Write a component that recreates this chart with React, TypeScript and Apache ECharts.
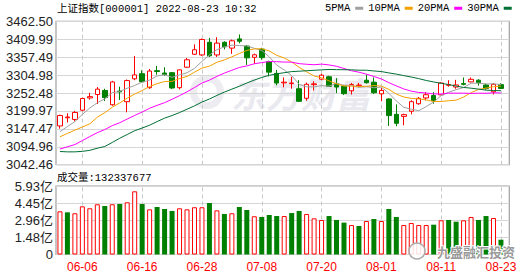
import React, { useEffect, useRef } from "react";
import * as echarts from "echarts";

const dates = [
  "05-31", "06-01", "06-02", "06-06", "06-07", "06-08", "06-09", "06-10", "06-13", "06-14",
  "06-15", "06-16", "06-17", "06-20", "06-21", "06-22", "06-23", "06-24", "06-27", "06-28",
  "06-29", "06-30", "07-01", "07-04", "07-05", "07-06", "07-07", "07-08", "07-11", "07-12",
  "07-13", "07-14", "07-15", "07-18", "07-19", "07-20", "07-21", "07-22", "07-25", "07-26",
  "07-27", "07-28", "07-29", "08-01", "08-02", "08-03", "08-04", "08-05", "08-08", "08-09",
  "08-10", "08-11", "08-12", "08-15", "08-16", "08-17", "08-18", "08-19", "08-22", "08-23",
];

const openPx = [
  3156, 3180, 3175, 3202, 3238, 3248, 3260, 3218, 3258, 3227,
  3294, 3309, 3268, 3318, 3311, 3312, 3268, 3328, 3366, 3364,
  3401, 3364, 3401, 3384, 3411, 3390, 3357, 3381, 3344, 3310,
  3282, 3280, 3265, 3237, 3277, 3293, 3300, 3280, 3272, 3259,
  3274, 3290, 3284, 3250, 3235, 3190, 3184, 3199, 3221, 3238,
  3245, 3247, 3275, 3270, 3280, 3285, 3290, 3276, 3256, 3277,
];
const closePx = [
  3186.4, 3182.2, 3195.5, 3236.4, 3241.8, 3263.8, 3239.0, 3284.8, 3255.6, 3288.9,
  3305.4, 3285.4, 3316.8, 3315.4, 3306.7, 3267.2, 3320.2, 3349.8, 3379.2, 3409.2,
  3361.5, 3398.6, 3387.6, 3405.4, 3404.0, 3355.4, 3364.4, 3356.1, 3313.6, 3281.5,
  3284.3, 3281.7, 3228.1, 3278.1, 3279.4, 3304.7, 3272.0, 3270.0, 3250.4, 3277.4,
  3275.8, 3282.6, 3253.2, 3260.0, 3186.3, 3163.7, 3189.1, 3227.0, 3236.9, 3247.4,
  3230.0, 3281.7, 3276.9, 3276.1, 3277.9, 3292.5, 3283.0, 3266.0, 3278.0, 3266.0,
];
const lowPx = [
  3148, 3166, 3169, 3199, 3233, 3220, 3229, 3215, 3232, 3196,
  3290, 3282, 3265, 3306, 3303, 3264, 3263, 3326, 3364, 3361,
  3358, 3358, 3380, 3367, 3398, 3335, 3338, 3350, 3301, 3275,
  3269, 3265, 3226, 3230, 3260, 3290, 3271, 3252, 3247, 3248,
  3269, 3280, 3250, 3229, 3156, 3155, 3158, 3190, 3218, 3231,
  3221, 3246, 3271, 3265, 3275, 3284, 3274, 3262, 3248, 3264,
];
const highPx = [
  3189, 3193, 3200, 3239, 3253, 3270, 3265, 3288, 3271, 3292,
  3361, 3319, 3323, 3332, 3328, 3314, 3321, 3355, 3395, 3412,
  3414, 3416, 3404, 3409, 3424, 3393, 3368, 3385, 3347, 3320,
  3298, 3300, 3290, 3283, 3287, 3309, 3303, 3296, 3274, 3282,
  3282, 3306, 3298, 3267, 3237, 3219, 3192, 3231, 3241, 3255,
  3255, 3284, 3290, 3291, 3298, 3298, 3293, 3280, 3281, 3281,
];

const ma5 = [
  3139.3, 3154.2, 3168.7, 3189.9, 3208.5, 3223.9, 3235.3, 3253.2, 3257.0, 3266.4,
  3274.7, 3284.0, 3290.4, 3302.4, 3305.9, 3298.3, 3305.3, 3311.9, 3324.6, 3345.1,
  3364.0, 3379.7, 3387.2, 3392.5, 3391.4, 3390.2, 3383.4, 3377.1, 3358.7, 3334.2,
  3320.0, 3303.4, 3277.8, 3270.7, 3270.3, 3274.4, 3272.5, 3280.8, 3275.3, 3274.9,
  3269.1, 3271.2, 3267.9, 3269.8, 3251.6, 3229.2, 3210.5, 3205.2, 3200.6, 3212.8,
  3226.1, 3244.6, 3254.6, 3262.4, 3268.5, 3281.0, 3281.3, 3279.1, 3279.5, 3277.1,
];
const ma10 = [
  3124.4, 3134.0, 3143.8, 3152.8, 3162.3, 3181.6, 3194.8, 3210.9, 3223.5, 3237.4,
  3249.3, 3259.7, 3271.8, 3279.7, 3286.2, 3286.5, 3294.6, 3301.1, 3313.5, 3325.5,
  3331.1, 3342.5, 3349.5, 3358.5, 3368.3, 3377.1, 3381.5, 3382.1, 3375.6, 3362.8,
  3355.1, 3343.4, 3327.5, 3314.7, 3302.3, 3297.2, 3288.0, 3279.3, 3273.0, 3272.6,
  3271.8, 3271.9, 3274.4, 3272.6, 3263.2, 3249.1, 3240.9, 3236.6, 3235.2, 3232.2,
  3227.6, 3227.5, 3229.9, 3231.5, 3240.7, 3253.6, 3262.9, 3266.8, 3271.0, 3272.8,
];
const ma20 = [
  3088.3, 3095.0, 3101.4, 3113.2, 3125.0, 3136.4, 3145.4, 3156.9, 3165.5, 3176.3,
  3186.8, 3196.8, 3207.8, 3216.2, 3224.2, 3234.1, 3244.7, 3256.0, 3268.5, 3281.5,
  3290.2, 3301.1, 3310.7, 3319.1, 3327.2, 3331.8, 3338.1, 3341.6, 3344.5, 3344.2,
  3343.1, 3342.9, 3338.5, 3336.6, 3335.3, 3337.1, 3334.7, 3330.7, 3324.3, 3317.7,
  3313.4, 3307.6, 3300.9, 3293.6, 3282.8, 3273.2, 3264.4, 3257.9, 3254.1, 3252.4,
  3249.7, 3249.7, 3252.1, 3252.0, 3252.0, 3251.3, 3251.9, 3251.7, 3253.1, 3252.5,
];
const ma30 = [
  3081.1, 3080.1, 3080.1, 3081.5, 3084.6, 3090.7, 3095.8, 3107.6, 3120.0, 3131.0,
  3142.0, 3149.9, 3158.2, 3168.7, 3178.8, 3186.5, 3195.2, 3205.0, 3214.8, 3226.0,
  3234.9, 3245.4, 3255.1, 3263.7, 3272.3, 3281.7, 3290.3, 3298.1, 3304.2, 3308.6,
  3311.9, 3315.2, 3316.3, 3317.7, 3318.9, 3320.3, 3321.4, 3320.9, 3320.7, 3320.3,
  3319.3, 3319.2, 3317.1, 3315.3, 3311.3, 3307.8, 3303.4, 3299.3, 3294.6, 3289.2,
  3284.8, 3280.9, 3277.2, 3272.9, 3268.7, 3266.6, 3263.9, 3260.9, 3259.7, 3259.2,
];

// volume in 亿 (1e8)
const volume = [
  3.74, 3.65, 3.57, 4.17, 4.0, 4.35, 4.2, 4.35, 4.37, 4.52,
  5.47, 4.37, 3.91, 4.11, 3.94, 3.77, 4.0, 3.91, 4.09, 4.09,
  4.46, 3.82, 3.51, 3.57, 4.11, 3.85, 3.31, 3.25, 3.42, 3.33,
  3.33, 3.59, 3.77, 3.51, 3.13, 2.99, 3.33, 2.99, 2.76, 2.55,
  2.47, 2.9, 3.07, 2.9, 3.94, 3.25, 2.55, 2.73, 2.55, 2.55,
  2.58, 2.96, 2.99, 2.84, 2.96, 3.25, 2.99, 3.33, 3.16, 1.28,
];
// 1 = up day (red hollow), -1 = down day (green solid)
const volumeDir = [
  1, -1, 1, 1, 1, 1, -1, 1, -1, 1,
  1, -1, 1, -1, -1, -1, 1, 1, 1, 1,
  -1, 1, -1, 1, -1, -1, 1, -1, -1, -1,
  1, -1, -1, 1, 1, 1, -1, -1, -1, 1,
  -1, 1, -1, 1, -1, -1, 1, 1, 1, 1,
  -1, 1, -1, -1, 1, 1, -1, -1, 1, -1,
];

const priceTicks = ["3042.46", "3094.96", "3147.47", "3199.97", "3252.48", "3304.98", "3357.49", "3409.99", "3462.50"];
const volumeTicks = ["0", "1.48亿", "2.96亿", "4.45亿", "5.93亿"];
const maNames = ["5PMA", "10PMA", "20PMA", "30PMA"];
const maColors = ["#a0a0a0", "#f5a000", "#ff00ff", "#006f35"];
const titleText = "上证指数[000001] 2022-08-23 10:32";
const volumeText = "成交量:132337677";
const watermarkMain = "东方财富";
const watermarkCorner = "九盛融汇投资";

export default function App() {
  const ref = useRef<HTMLDivElement>(null);

  useEffect(() => {
    document.body.style.margin = "0";
    const chart = echarts.init(ref.current as HTMLDivElement, null, { renderer: "svg" });

    const RED = "#ff0000";
    const GREEN = "#008000";
    const SANS = "'Liberation Sans', Arial, sans-serif";
    const MONO = "'Liberation Mono', 'Noto Sans CJK SC', monospace";
    const labelIdx = (i: number) => i % 8 === 3;
    const gridMarks = dates.filter((_, i) => labelIdx(i)).map((d) => ({ xAxis: d }));
    const markLine = {
      silent: true,
      symbol: ["none", "none"],
      label: { show: false },
      emphasis: { disabled: true },
      lineStyle: { color: "#c8c8c8", type: [4, 3], width: 1 },
      z: 1,
      animation: false,
      data: gridMarks,
    };

    const mainTop = 21.3;
    const mainH = 143.4;
    const volTop = 186;
    const volH = 68.5;
    const seriesLeft = 56.2;
    const seriesW = 448.5;
    const frameLeft = 56;
    const frameW = 453.3;
    const frameStyle = { show: true, borderColor: "#a0a0a0", borderWidth: 1.2, backgroundColor: "transparent" };

    const option: any = {
      animation: false,
      backgroundColor: "#ffffff",
      grid: [
        { left: seriesLeft, top: mainTop, width: seriesW, height: mainH },
        { left: frameLeft, top: mainTop, width: frameW, height: mainH, ...frameStyle },
        { left: seriesLeft, top: volTop, width: seriesW, height: volH },
        { left: frameLeft, top: volTop, width: frameW, height: volH, ...frameStyle },
      ],
      legend: {
        data: maNames,
        left: 325,
        top: 3,
        padding: 0,
        align: "right",
        icon: "rect",
        itemWidth: 8,
        itemHeight: 3,
        itemGap: 5,
        selectedMode: false,
        textStyle: { fontSize: 10.5, fontFamily: MONO, color: "#000" },
      },
      xAxis: [
        {
          gridIndex: 0, type: "category", data: dates, boundaryGap: true,
          axisLine: { show: false }, axisTick: { show: false }, axisLabel: { show: false }, splitLine: { show: false },
        },
        { gridIndex: 1, type: "value", min: 0, max: 1, show: false },
        {
          gridIndex: 2, type: "category", data: dates, boundaryGap: true,
          axisLine: { show: false }, axisTick: { show: false }, splitLine: { show: false },
          axisLabel: { interval: (i: number) => labelIdx(i), color: RED, fontSize: 12, fontFamily: SANS, margin: 6 },
        },
        { gridIndex: 3, type: "value", min: 0, max: 1, show: false },
      ],
      yAxis: [
        { gridIndex: 0, type: "value", min: Number(priceTicks[0]), max: Number(priceTicks[priceTicks.length - 1]), show: false },
        {
          gridIndex: 1, type: "value", min: 0, max: priceTicks.length - 1, interval: 1,
          axisLine: { show: false }, axisTick: { show: false },
          axisLabel: { formatter: (v: number) => priceTicks[Math.round(v)], color: "#222", fontSize: 13, fontFamily: SANS, margin: 3 },
          splitLine: { lineStyle: { color: "#d6d6d6", width: 1 } },
        },
        { gridIndex: 2, type: "value", min: 0, max: 5.93, show: false },
        {
          gridIndex: 3, type: "value", min: 0, max: volumeTicks.length - 1, interval: 1,
          axisLine: { show: false }, axisTick: { show: false },
          axisLabel: { formatter: (v: number) => volumeTicks[Math.round(v)], color: "#222", fontSize: 13, fontFamily: "'Liberation Sans', 'Noto Sans CJK SC', sans-serif", margin: 3 },
          splitLine: { lineStyle: { color: "#d6d6d6", width: 1 } },
        },
      ],
      series: [
        {
          name: "K",
          type: "candlestick",
          xAxisIndex: 0,
          yAxisIndex: 0,
          barWidth: 5,
          data: dates.map((_, i) => [openPx[i], closePx[i], lowPx[i], highPx[i]]),
          itemStyle: { color: "#ffffff", color0: GREEN, borderColor: RED, borderColor0: GREEN, borderWidth: 1 },
          markLine,
          z: 3,
        },
        ...[ma5, ma10, ma20, ma30].map((d, k) => ({
          name: maNames[k],
          type: "line",
          xAxisIndex: 0,
          yAxisIndex: 0,
          data: d,
          symbol: "none",
          showSymbol: false,
          smooth: false,
          color: maColors[k],
          lineStyle: { color: maColors[k], width: 1 },
          z: 4,
        })),
        {
          name: "VOL",
          type: "bar",
          xAxisIndex: 2,
          yAxisIndex: 2,
          barWidth: 5,
          data: volume.map((v, i) =>
            volumeDir[i] > 0
              ? { value: v, itemStyle: { color: "#ffffff", borderColor: RED, borderWidth: 1 } }
              : { value: v, itemStyle: { color: GREEN, borderColor: GREEN, borderWidth: 0 } }
          ),
          markLine,
          z: 3,
        },
      ],
      graphic: [
        {
          type: "text", x: 57, y: 8.5, z: 10,
          style: { text: titleText, font: `10.5px ${MONO}`, fill: "#000", textVerticalAlign: "middle" },
        },
        {
          type: "text", x: 57, y: 178, z: 10,
          style: { text: volumeText, font: `10.5px ${MONO}`, fill: "#000", textVerticalAlign: "middle" },
        },
        {
          type: "ring", z: 0, shape: { cx: 207, cy: 92, r: 17, r0: 10 },
          style: { fill: "#ececf1" },
        },
        {
          type: "text", x: 231, y: 92, z: 0,
          style: {
            text: watermarkMain,
            font: "italic bold 35px 'Noto Sans CJK SC', sans-serif",
            fill: "#e9e9ef",
            textVerticalAlign: "middle",
          },
        },
        {
          type: "circle", z: 20, shape: { cx: 417, cy: 251, r: 8 },
          style: { fill: "rgba(255,255,255,0.85)", stroke: "#aaaaaa", lineWidth: 1.5 },
        },
        {
          type: "text", x: 437, y: 251, z: 20,
          style: {
            text: watermarkCorner,
            font: "bold 13px 'Noto Sans CJK SC', sans-serif",
            fill: "#9a9a9a",
            stroke: "#ffffff",
            lineWidth: 2,
            textVerticalAlign: "middle",
          },
        },
      ],
    };

    chart.setOption(option);
    return () => chart.dispose();
  }, []);

  return (
    <div
      ref={ref}
      style={{ width: 530, height: 276, position: "fixed", left: 0, top: 0, background: "#fff" }}
    />
  );
}
